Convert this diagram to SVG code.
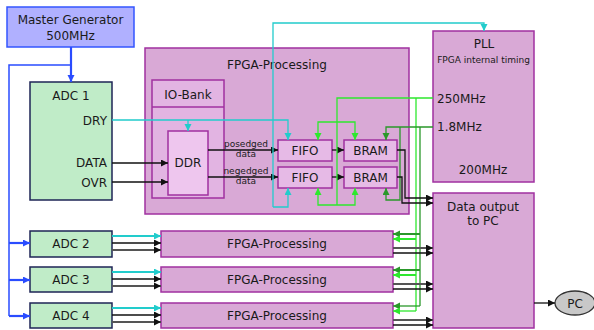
<svg xmlns="http://www.w3.org/2000/svg" width="594" height="330" viewBox="0 0 594 330">
<defs>
<style>
text{font-family:"DejaVu Sans","Liberation Sans",sans-serif;fill:#1a1a1a;font-size:12px;text-anchor:middle}
.small{font-size:9px}
.adc{fill:#c0ecc8;stroke:#1e2456;stroke-width:1.5}
.fpga{fill:#d9a9d6;stroke:#a030a0;stroke-width:1.5}
.inner{fill:#e6bae6;stroke:#a030a0;stroke-width:1.5}
.c{fill:none}
.blk{stroke:#111;stroke-width:1.3}
.gry{stroke:#555;stroke-width:1.8}
.cy{stroke:#22cccc;stroke-width:1.3}
.cyt{stroke:#22cccc;stroke-width:2.2}
.gr{stroke:#2ee82e;stroke-width:1.3}
.grt{stroke:#2ee82e;stroke-width:2}
.dg{stroke:#2a982a;stroke-width:1.3}
.dgt{stroke:#2a982a;stroke-width:2}
.bl{stroke:#2a4cff;stroke-width:1.5}
.blt{stroke:#2a4cff;stroke-width:2.2}
</style>
<marker id="ab" markerUnits="userSpaceOnUse" markerWidth="8" markerHeight="8" refX="7" refY="3.5" orient="auto"><path d="M0,0 L7,3.5 L0,7 Z" fill="#111"/></marker>
<marker id="ac" markerUnits="userSpaceOnUse" markerWidth="8" markerHeight="8" refX="7" refY="3.5" orient="auto"><path d="M0,0 L7,3.5 L0,7 Z" fill="#22cccc"/></marker>
<marker id="ag" markerUnits="userSpaceOnUse" markerWidth="8" markerHeight="8" refX="7" refY="3.5" orient="auto"><path d="M0,0 L7,3.5 L0,7 Z" fill="#2ee82e"/></marker>
<marker id="ad" markerUnits="userSpaceOnUse" markerWidth="8" markerHeight="8" refX="7" refY="3.5" orient="auto"><path d="M0,0 L7,3.5 L0,7 Z" fill="#2a982a"/></marker>
<marker id="abl" markerUnits="userSpaceOnUse" markerWidth="8" markerHeight="8" refX="7" refY="3.5" orient="auto"><path d="M0,0 L7,3.5 L0,7 Z" fill="#2a4cff"/></marker>
</defs>

<g id="master-generator">
<rect x="7" y="7" width="127" height="40" fill="#b0b0ff" stroke="#3355ff" stroke-width="1.5"/>
<text x="70.5" y="24">Master Generator</text>
<text x="70.5" y="40">500MHz</text>
</g>

<g id="adc1">
<rect class="adc" x="30" y="82" width="82" height="118"/>
<text x="71" y="100">ADC 1</text>
<text x="107" y="125" style="text-anchor:end">DRY</text>
<text x="107" y="167" style="text-anchor:end">DATA</text>
<text x="107" y="187" style="text-anchor:end">OVR</text>
</g>

<g id="fpga-processing-1">
<rect class="fpga" x="145" y="48" width="264" height="166"/>
<text x="277" y="69">FPGA-Processing</text>
</g>

<g id="io-bank">
<rect class="inner" x="152" y="80" width="72" height="118" style="fill:#e2b4e2"/>
<line x1="152" y1="107" x2="224" y2="107" stroke="#a030a0" stroke-width="1.5"/>
<text x="188" y="99">IO-Bank</text>
</g>

<g id="ddr">
<rect class="inner" x="168" y="131" width="40" height="64" style="fill:#eec6ee"/>
<text x="188" y="167">DDR</text>
</g>

<g id="fifo1"><rect class="inner" x="278" y="140" width="54" height="21"/><text x="305" y="155">FIFO</text></g>
<g id="fifo2"><rect class="inner" x="278" y="167" width="54" height="21"/><text x="305" y="182">FIFO</text></g>
<g id="bram1"><rect class="inner" x="344" y="140" width="53" height="21"/><text x="370.5" y="155">BRAM</text></g>
<g id="bram2"><rect class="inner" x="344" y="167" width="53" height="21"/><text x="370.5" y="182">BRAM</text></g>

<g id="pll">
<rect class="fpga" x="433" y="31" width="101" height="151"/>
<text x="484" y="48">PLL</text>
<text class="small" x="483.5" y="63">FPGA internal timing</text>
<text x="437" y="103" style="text-anchor:start">250MHz</text>
<text x="437" y="131" style="text-anchor:start">1.8MHz</text>
<text x="483" y="174">200MHz</text>
</g>

<g id="data-output">
<rect class="fpga" x="433" y="193" width="101" height="135"/>
<text x="483" y="211">Data output</text>
<text x="483" y="225">to PC</text>
</g>

<g id="adc2"><rect class="adc" x="30" y="231" width="82" height="26"/><text x="71" y="248">ADC 2</text></g>
<g id="adc3"><rect class="adc" x="30" y="267" width="82" height="25"/><text x="71" y="284">ADC 3</text></g>
<g id="adc4"><rect class="adc" x="30" y="303" width="82" height="25"/><text x="71" y="320">ADC 4</text></g>

<g id="fpga-processing-2"><rect class="fpga" x="161" y="231" width="232" height="26"/><text x="277" y="248">FPGA-Processing</text></g>
<g id="fpga-processing-3"><rect class="fpga" x="161" y="267" width="232" height="25"/><text x="277" y="284">FPGA-Processing</text></g>
<g id="fpga-processing-4"><rect class="fpga" x="161" y="303" width="232" height="25"/><text x="277" y="320">FPGA-Processing</text></g>

<g id="pc">
<ellipse cx="575" cy="303" rx="20" ry="12" fill="#c8c8c8" stroke="#333" stroke-width="1.3"/>
<text x="575" y="308">PC</text>
</g>

<g id="connectors" class="c">
<!-- blue clock -->
<path class="blt" d="M71,47 V82" marker-end="url(#abl)"/>
<path class="bl" d="M71,65 H9 V316"/>
<path class="blt" d="M9,243 H30" marker-end="url(#abl)"/>
<path class="blt" d="M9,280 H30" marker-end="url(#abl)"/>
<path class="blt" d="M9,316 H30" marker-end="url(#abl)"/>

<!-- ADC1 data -->
<path class="blk" d="M112,163 H168" marker-end="url(#ab)"/>
<path class="blk" d="M112,182 H168" marker-end="url(#ab)"/>
<path class="blk" d="M208,150 H278" marker-end="url(#ab)"/>
<path class="blk" d="M208,177 H278" marker-end="url(#ab)"/>
<path class="blk" d="M332,150 H344" marker-end="url(#ab)"/>
<path class="blk" d="M332,177 H344" marker-end="url(#ab)"/>
<text class="small" x="246" y="147">posedged</text>
<text class="small" x="246" y="157">data</text>
<text class="small" x="246" y="174">negedged</text>
<text class="small" x="246" y="184">data</text>

<!-- DRY cyan -->
<path class="cy" d="M112,120 H288 V140" marker-end="url(#ac)"/>
<path class="cy" d="M188,120 V131" marker-end="url(#ac)"/>
<path class="cy" d="M273,207 V23 H484 V31" marker-end="url(#ac)"/>
<path class="cy" d="M273,207 H288 V188" marker-end="url(#ac)"/>

<!-- 250MHz bright green -->
<path class="gr" d="M433,98 H337 V205"/>
<path class="gr" d="M337,122 H318 V140" marker-end="url(#ag)"/>
<path class="gr" d="M337,122 H355 V140" marker-end="url(#ag)"/>
<path class="gr" d="M337,205 H318 V188" marker-end="url(#ag)"/>
<path class="gr" d="M337,205 H355 V188" marker-end="url(#ag)"/>
<path class="gr" d="M416,98 V311"/>

<!-- 1.8MHz dark green -->
<path class="dg" d="M433,127 H386 V140" marker-end="url(#ad)"/>
<path class="dg" d="M400,127 V200 H386 V188" marker-end="url(#ad)"/>
<path class="dg" d="M420,127 V306"/>

<!-- BRAM to data output -->
<path class="blk" d="M397,150 H405 V198 H433" marker-end="url(#ab)"/>
<path class="blk" d="M397,177 H402 V203 H433" marker-end="url(#ab)"/>

<!-- lower rows: ADC to processing -->
<path class="cyt" d="M112,236 H161" marker-end="url(#ac)"/>
<path class="blk" d="M112,243 H161" marker-end="url(#ab)"/>
<path class="gry" d="M112,250 H161" marker-end="url(#ab)"/>
<path class="cyt" d="M112,272 H161" marker-end="url(#ac)"/>
<path class="blk" d="M112,279 H161" marker-end="url(#ab)"/>
<path class="gry" d="M112,286 H161" marker-end="url(#ab)"/>
<path class="cyt" d="M112,308 H161" marker-end="url(#ac)"/>
<path class="blk" d="M112,315 H161" marker-end="url(#ab)"/>
<path class="gry" d="M112,322 H161" marker-end="url(#ab)"/>

<!-- clocks to lower rows -->
<path class="dgt" d="M420,234 H393" marker-end="url(#ad)"/>
<path class="grt" d="M416,239 H393" marker-end="url(#ag)"/>
<path class="dgt" d="M420,270 H393" marker-end="url(#ad)"/>
<path class="grt" d="M416,275 H393" marker-end="url(#ag)"/>
<path class="dg" d="M420,306 H393" marker-end="url(#ad)"/>
<path class="gr" d="M416,311 H393" marker-end="url(#ag)"/>

<!-- processing to data output -->
<path class="gry" d="M393,248 H433" marker-end="url(#ab)"/>
<path class="blk" d="M393,253 H433" marker-end="url(#ab)"/>
<path class="gry" d="M393,284 H433" marker-end="url(#ab)"/>
<path class="blk" d="M393,289 H433" marker-end="url(#ab)"/>
<path class="gry" d="M393,320 H433" marker-end="url(#ab)"/>
<path class="blk" d="M393,325 H433" marker-end="url(#ab)"/>

<!-- to PC -->
<path class="blk" d="M534,303 H555" marker-end="url(#ab)"/>
</g>
</svg>
